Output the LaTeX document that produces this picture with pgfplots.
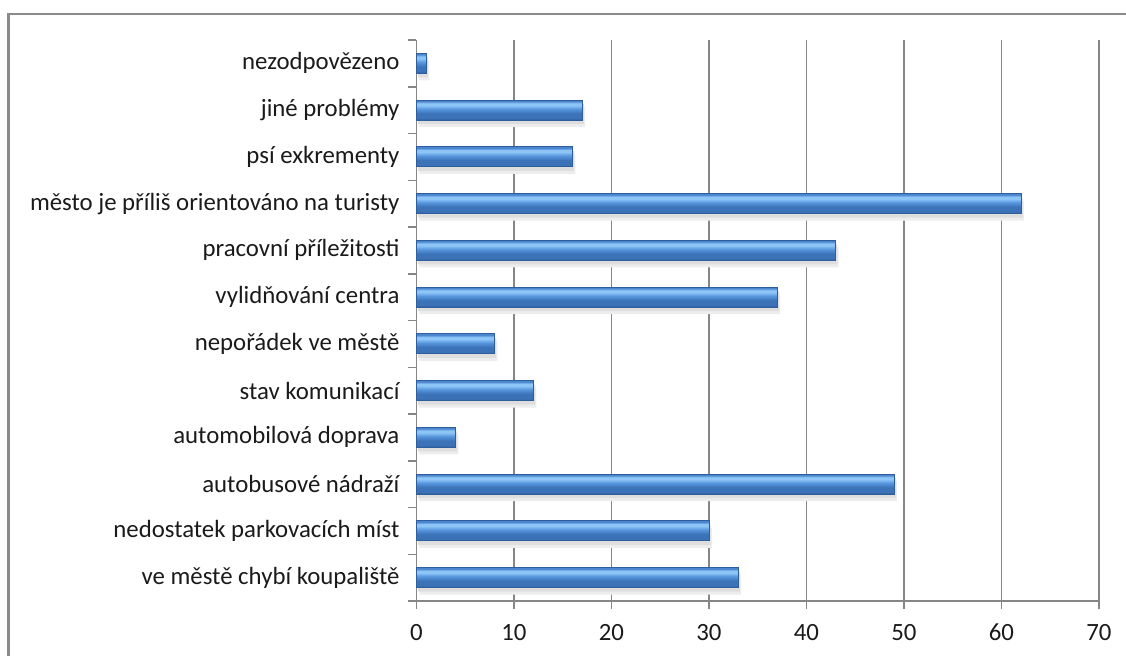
\documentclass[border=0pt]{standalone}
\usepackage{pgfplots}
\pgfplotsset{compat=1.18}
\usepackage{pgfplotstable}
\usepackage{fontspec}
\setmainfont{Carlito}

\definecolor{framegray}{HTML}{8A8A8A}
\definecolor{axisgray}{HTML}{868686}
\definecolor{labeltext}{HTML}{1A1A1A}
\definecolor{bbot}{HTML}{2B5794}
\definecolor{blow}{HTML}{3C73B8}
\definecolor{bmid}{HTML}{5797DE}
\definecolor{bhi}{HTML}{8EC5F7}
\definecolor{btop}{HTML}{4A86CF}
\definecolor{bedge}{HTML}{2F5E9C}

% cylinder-like vertical shading for the bars
\pgfdeclareverticalshading{barshade}{100bp}{%
  color(0bp)=(bbot); color(25bp)=(bbot); color(30bp)=(blow);
  color(42bp)=(blow); color(53bp)=(bmid); color(62bp)=(bhi);
  color(67bp)=(bhi); color(72bp)=(btop); color(75bp)=(btop);
  color(100bp)=(btop)}

% answers per problem, bottom to top
\pgfplotstableread{
idx value
0 33
1 30
2 49
3 4
4 12
5 8
6 37
7 43
8 62
9 16
10 17
11 1
}\problems

\begin{document}
\begin{tikzpicture}
\useasboundingbox (0pt,0pt) rectangle (563pt,327.5pt);
\begin{scope}
\clip (0pt,0pt) rectangle (563pt,327.5pt);
\draw[framegray, line width=1.3pt] (4.25pt,-20pt) rectangle (600pt,320.5pt);
\end{scope}
\begin{axis}[
  at={(208.25pt,27pt)}, anchor=south west,
  scale only axis, width=341.25pt, height=280.5pt,
  xmin=0, xmax=70, ymin=-0.5, ymax=11.5,
  axis x line*=bottom, axis y line*=left,
  axis line style={-, draw=axisgray, line width=0.75pt},
  xtick={0,10,...,70},
  xmajorgrids,
  major grid style={draw=axisgray, line width=0.75pt},
  tick align=outside,
  major tick length=4pt,
  tick style={draw=axisgray, line width=0.75pt},
  ytick={-0.5,0.5,...,11.5},
  yticklabels={},
  extra y ticks={0,...,11},
  extra y tick style={major tick length=0pt, grid=none},
  extra y tick labels={
    ve městě chybí koupaliště\ ,
    nedostatek parkovacích míst,
    autobusové nádraží,
    automobilová doprava,
    stav komunikací,
    nepořádek ve městě,
    vylidňování centra,
    pracovní příležitosti,
    město je příliš orientováno na turisty,
    psí exkrementy,
    jiné problémy,
    nezodpovězeno},
  /pgf/number format/assume math mode=true,
  ticklabel style={font=\fontsize{12.4pt}{14pt}\selectfont, text=labeltext},
  yticklabel style={xshift=-5pt},
  xticklabel style={yshift=-4pt},
  unbounded coords=discard,
  clip=false,
]
% soft drop shadow under the bars
\addplot[xbar, bar width=10pt, bar shift=-3.5pt, xshift=1.5pt, fill=black!7, draw=none, forget plot]
  table[x=value, y=idx] {\problems};
\addplot[xbar, bar width=10pt, bar shift=-2pt, xshift=0.8pt, fill=black!13, draw=none, forget plot]
  table[x=value, y=idx] {\problems};
% one path per bar so that each bar gets its own shading
\pgfplotsinvokeforeach{0,...,11}{
  \addplot[xbar, bar width=10pt, shading=barshade, draw=bedge, line width=0.4pt,
    restrict y to domain=#1:#1, forget plot]
    table[x=value, y=idx] {\problems};
}
\end{axis}
\end{tikzpicture}
\end{document}
